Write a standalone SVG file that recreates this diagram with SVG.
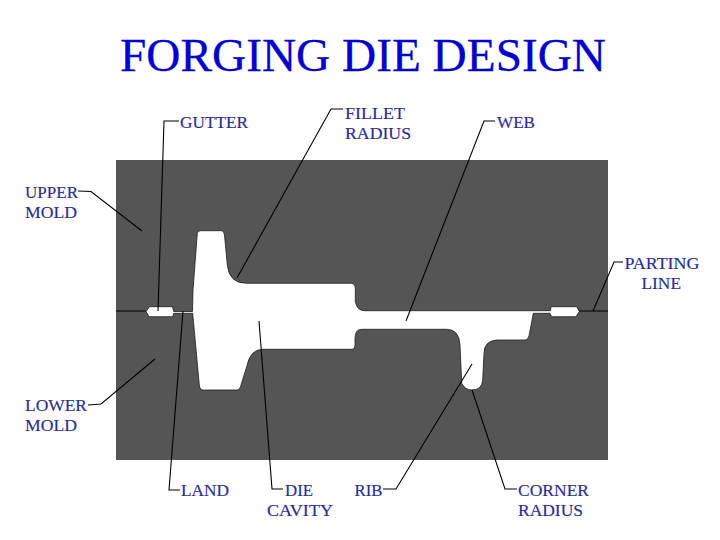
<svg xmlns="http://www.w3.org/2000/svg" width="720" height="540" viewBox="0 0 720 540">
<style>
.title{font-family:"Liberation Serif","Times New Roman",serif;font-size:47px;fill:#0000cc;stroke:#0000cc;stroke-width:0.3}
.lbl{font-family:"Liberation Serif","Times New Roman",serif;font-size:17.5px;fill:#2b2b90;stroke:#2b2b90;stroke-width:0.15}
.lead{fill:none;stroke:#000;stroke-width:1.1}
</style>
<rect width="720" height="540" fill="#fff"/>
<text id="title" class="title" x="120" y="71" textLength="486" lengthAdjust="spacingAndGlyphs">FORGING DIE DESIGN</text>
<g id="die">
<rect x="116" y="160" width="492" height="300" fill="#555"/>
<path d="M146 311.500L149.500 306.700H172.500L173.700 311.500H192.500L193 290L197.300 233.500Q197.800 230.700 200.500 230.700H221.500Q224 230.700 224.500 235L227.300 265Q229 283.300 246.700 283.300H350.500Q355.300 283.300 355.300 288.300V301.700Q357 310.700 365 310.700H550.500L551 306.700H576.700L579.300 311.500L576 316.700H551.700L550 313.300H533.300L529 336Q528 340 525 340H496.700Q484 341 484 353.300L482.700 380Q482 390 471.700 390Q465 390 461.700 383.300L460 345Q459 329.300 446.700 329.300H361.700Q355 329.300 355 338.300V345Q355 349.300 351.700 349.300H261.700Q250 350 246.700 366.700L240.500 386.700Q239.500 390 236.700 390H203.300Q199.800 390 199.300 385L192.700 313.300H173.700L172.700 316.700H149L146 311.500Z" fill="#fff" stroke="#1c1c1c" stroke-width="0.8"/>
<path class="lead" d="M116 311H146M579 311H608"/>
</g>
<g id="connectors">
<path class="lead" d="M179 121H164L158 311"/>
<path class="lead" d="M343 109H331L237 278"/>
<path class="lead" d="M495 121H484L406 321"/>
<path class="lead" d="M78 191L91 191.500L142 231"/>
<path class="lead" d="M88 405L101 404L155 359"/>
<path class="lead" d="M180 490H169L183 311"/>
<path class="lead" d="M283 489H272L259 321"/>
<path class="lead" d="M383 489H396L472 364"/>
<path class="lead" d="M517 489H505L472 390"/>
<path class="lead" d="M623 262H614L593 311"/>
</g>
<g id="labels">
<g id="n-gutter"><text class="lbl" x="180" y="127.500" textLength="68" lengthAdjust="spacingAndGlyphs">GUTTER</text></g>
<g id="n-fillet"><text class="lbl" x="345" y="119" textLength="60" lengthAdjust="spacingAndGlyphs">FILLET</text><text class="lbl" x="345" y="139" textLength="66" lengthAdjust="spacingAndGlyphs">RADIUS</text></g>
<g id="n-web"><text class="lbl" x="497" y="127.500" textLength="38" lengthAdjust="spacingAndGlyphs">WEB</text></g>
<g id="n-upper"><text class="lbl" x="25" y="198" textLength="53" lengthAdjust="spacingAndGlyphs">UPPER</text><text class="lbl" x="25" y="218" textLength="52" lengthAdjust="spacingAndGlyphs">MOLD</text></g>
<g id="n-lower"><text class="lbl" x="25" y="411" textLength="62" lengthAdjust="spacingAndGlyphs">LOWER</text><text class="lbl" x="25" y="431" textLength="52" lengthAdjust="spacingAndGlyphs">MOLD</text></g>
<g id="n-land"><text class="lbl" x="181" y="496" textLength="48" lengthAdjust="spacingAndGlyphs">LAND</text></g>
<g id="n-cavity"><text class="lbl" x="285" y="496" textLength="28" lengthAdjust="spacingAndGlyphs">DIE</text><text class="lbl" x="267" y="516" textLength="66" lengthAdjust="spacingAndGlyphs">CAVITY</text></g>
<g id="n-rib"><text class="lbl" x="354.500" y="496" textLength="28" lengthAdjust="spacingAndGlyphs">RIB</text></g>
<g id="n-corner"><text class="lbl" x="518" y="496" textLength="71" lengthAdjust="spacingAndGlyphs">CORNER</text><text class="lbl" x="518" y="516" textLength="65" lengthAdjust="spacingAndGlyphs">RADIUS</text></g>
<g id="n-parting"><text class="lbl" x="624.500" y="268.500" textLength="75" lengthAdjust="spacingAndGlyphs">PARTING</text><text class="lbl" x="641.500" y="288.500" textLength="39.500" lengthAdjust="spacingAndGlyphs">LINE</text></g>
</g>
</svg>
